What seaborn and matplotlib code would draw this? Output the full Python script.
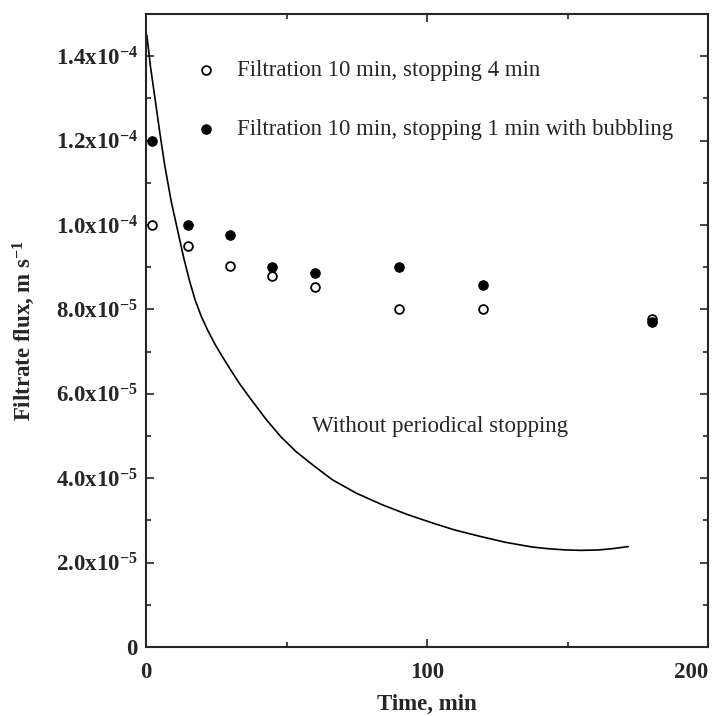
import numpy as np
import pandas as pd
import seaborn as sns
import matplotlib.pyplot as plt
from matplotlib.ticker import MultipleLocator, FuncFormatter

# data
time_pts = [2, 15, 30, 45, 60, 90, 120, 180]
flux_stop4 = [1.00e-4, 0.951e-4, 0.902e-4, 0.878e-4, 0.852e-4, 0.802e-4, 0.802e-4, 0.778e-4]
flux_bubble = [1.20e-4, 1.00e-4, 0.977e-4, 0.901e-4, 0.887e-4, 0.901e-4, 0.859e-4, 0.771e-4]

curve_t = [0.3, 1.5, 3.2, 5.0, 6.7, 9.0, 11.5, 13.5, 15.6, 17.5, 19.7, 22.0, 24.5,
           27.0, 29.8, 33.3, 37.0, 42.8, 48.0, 53.4, 60.0, 66.4, 75.0, 84.1, 93.0,
           101.9, 110.0, 119.6, 128.0, 137.4, 143.0, 149.2, 155.0, 161.0, 166.0, 171.6]
curve_flux = [1.45e-4, 1.38e-4, 1.30e-4, 1.215e-4, 1.14e-4, 1.055e-4, 0.98e-4, 0.92e-4,
              0.865e-4, 0.822e-4, 0.783e-4, 0.75e-4, 0.718e-4, 0.69e-4, 0.66e-4,
              0.624e-4, 0.59e-4, 0.539e-4, 0.498e-4, 0.463e-4, 0.428e-4, 0.396e-4,
              0.364e-4, 0.337e-4, 0.314e-4, 0.294e-4, 0.277e-4, 0.261e-4, 0.248e-4,
              0.237e-4, 0.233e-4, 0.230e-4, 0.229e-4, 0.230e-4, 0.233e-4, 0.238e-4]

lab_stop4 = "Filtration 10 min, stopping 4 min"
lab_bubble = "Filtration 10 min, stopping 1 min with bubbling"
x_ticks = [0, 100, 200]
y_ticklabels = {0: "0", 2e-5: "2.0x10^{-5}", 4e-5: "4.0x10^{-5}", 6e-5: "6.0x10^{-5}",
                8e-5: "8.0x10^{-5}", 1e-4: "1.0x10^{-4}", 1.2e-4: "1.2x10^{-4}",
                1.4e-4: "1.4x10^{-4}"}

sns.set_style("ticks")
plt.rcParams['font.family'] = ['Liberation Serif', 'DejaVu Serif']
plt.rcParams['mathtext.fontset'] = 'custom'
plt.rcParams['mathtext.rm'] = 'Liberation Serif'
plt.rcParams['mathtext.bf'] = 'Liberation Serif:bold'
plt.rcParams['mathtext.it'] = 'Liberation Serif:italic'

FS = 16.5

df_pts = pd.DataFrame({'time': time_pts, 'stop4': flux_stop4, 'bubble': flux_bubble})
df_curve = pd.DataFrame({'time': curve_t, 'flux': curve_flux})

fig = plt.figure(figsize=(7.16, 7.16), dpi=100)
ax = fig.add_axes([146 / 716, 1 - 647 / 716, 562 / 716, 633 / 716])

sns.lineplot(data=df_curve, x='time', y='flux', sort=False, estimator=None,
             color='black', linewidth=1.2, ax=ax)
sns.scatterplot(data=df_pts, x='time', y='stop4', marker='o', s=40,
                facecolor='white', edgecolor='black', linewidth=1.3,
                label=lab_stop4, ax=ax, zorder=3)
sns.scatterplot(data=df_pts, x='time', y='bubble', marker='o', s=46,
                color='black', edgecolor='black', linewidth=0.8,
                label=lab_bubble, ax=ax, zorder=3)

ax.set_xlim(0, 200)
ax.set_ylim(0, 1.5e-4)
ax.set_xticks(x_ticks, labels=[str(v) for v in x_ticks])
ax.xaxis.set_minor_locator(MultipleLocator(50))
ax.yaxis.set_major_locator(MultipleLocator(2e-5))
ax.yaxis.set_minor_locator(MultipleLocator(1e-5))


def fmt_y(v, pos):
    for k, s in y_ticklabels.items():
        if abs(v - k) < 1e-9:
            return s if s == "0" else r"$\mathbf{" + s + "}$"
    return ""


ax.yaxis.set_major_formatter(FuncFormatter(fmt_y))
ax.tick_params(which='both', direction='in', top=True, right=True, width=1.2)
ax.tick_params(which='major', length=6)
ax.tick_params(which='minor', length=3.5)
ax.tick_params(axis='x', pad=11, labelsize=FS)
ax.tick_params(axis='y', pad=6, labelsize=FS)
for lbl in ax.get_xticklabels() + ax.get_yticklabels():
    lbl.set_fontweight('bold')
ax.get_xticklabels()[-1].set_horizontalalignment('right')
for sp in ax.spines.values():
    sp.set_linewidth(1.5)

ax.set_xlabel("Time, min", fontsize=FS, fontweight='bold', labelpad=8)
ax.set_ylabel(r"Filtrate flux, m s$^{\mathbf{-1}}$", fontsize=FS, fontweight='bold')
ax.yaxis.set_label_coords(-0.194, 0.5)

ax.text(104.6, 5.22e-5, "Without periodical stopping", fontsize=FS,
        ha='center', va='center')

ax.legend(loc='upper left', bbox_to_anchor=(0.0705, 0.9425), frameon=False,
          fontsize=FS, labelspacing=1.66, handlelength=1.0, handletextpad=0.85,
          borderaxespad=0)

fig.savefig("out.png", dpi=100)
